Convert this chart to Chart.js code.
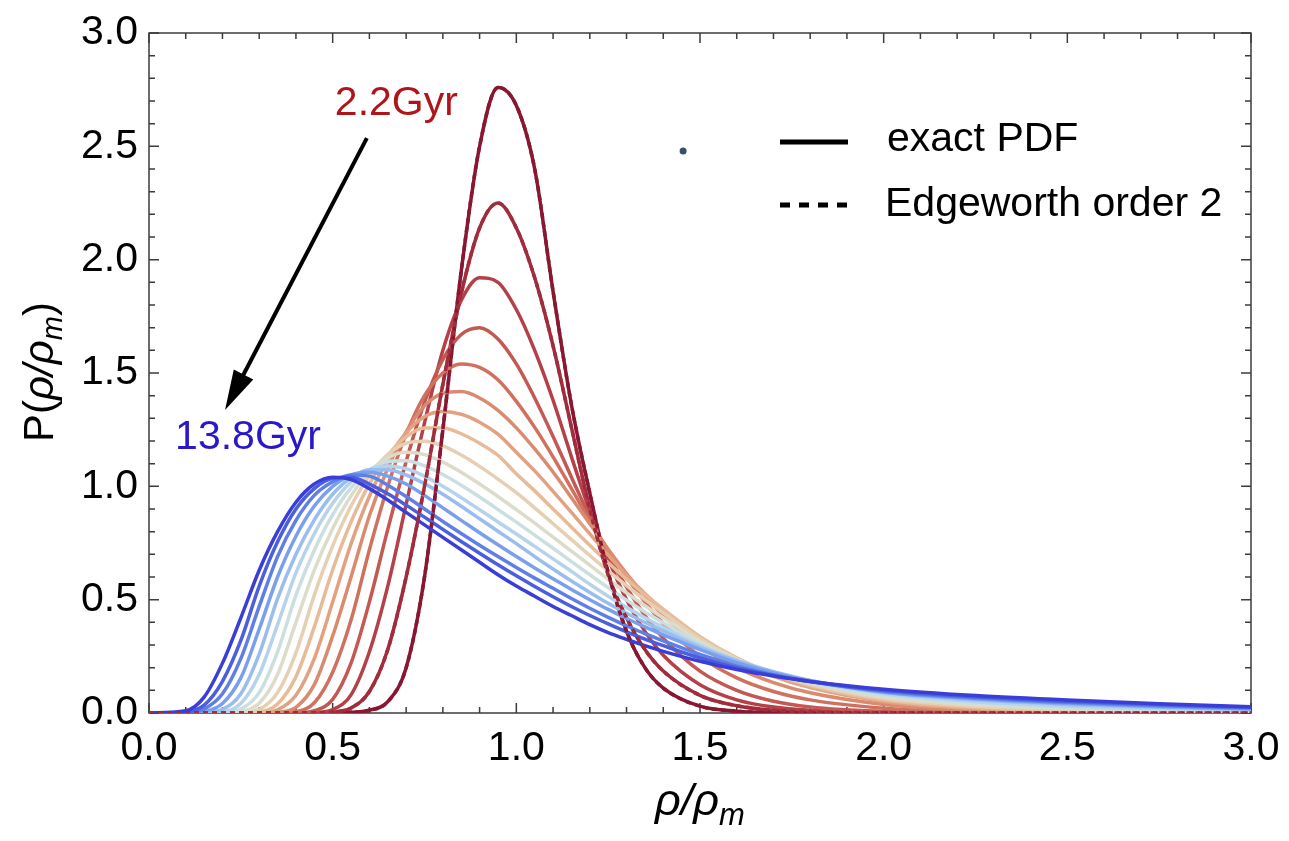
<!DOCTYPE html>
<html>
<head>
<meta charset="utf-8">
<script src="https://cdn.jsdelivr.net/npm/chart.js@4.4.1/dist/chart.umd.min.js"></script>
<style>
  html, body { margin: 0; padding: 0; background: #fff; }
  #wrap { width: 1289px; height: 841px; position: relative; }
</style>
</head>
<body>
<div id="wrap"><canvas id="pdfChart"></canvas></div>
<script>
// density contrast grid (rho / rho_m)
const rhoGrid = [0, 0.1, 0.15, 0.2, 0.25, 0.3, 0.35, 0.4, 0.45, 0.5, 0.55, 0.6, 0.65, 0.7, 0.75, 0.8, 0.85, 0.9, 0.95, 1.0,
                 1.05, 1.1, 1.15, 1.2, 1.25, 1.3, 1.35, 1.4, 1.5, 1.6, 1.7, 1.8, 2.0, 2.25, 2.5, 2.75, 3.0];

// PDF curves, from 2.2 Gyr (first) to 13.8 Gyr (last)
const curve00 = [0,0,0,0,0,0,0,0,0,0, 0.003,0.012,0.05,0.2,0.6,1.25,1.95,2.5,2.76,2.68,2.4,1.86,1.36,0.97,0.62,0.36,0.2,0.11, 0.03,0.008,0.002,0,0,0,0,0,0];
const curve01 = [0,0,0,0,0,0,0,0,0,0.004, 0.022,0.095,0.28,0.6,1.0,1.45,1.85,2.14,2.25,2.14,1.92,1.62,1.26,0.9,0.61,0.42,0.28,0.185, 0.078,0.032,0.012,0.005,0.001,0,0,0,0];
const curve02 = [0,0,0,0,0,0,0,0,0.002,0.015, 0.08,0.27,0.56,0.92,1.28,1.6,1.82,1.92,1.9,1.78,1.6,1.38,1.13,0.89,0.68,0.5,0.36,0.255, 0.125,0.058,0.026,0.012,0.002,0,0,0,0];
const curve03 = [0,0,0,0,0,0,0,0,0.01,0.06, 0.22,0.49,0.81,1.11,1.37,1.56,1.67,1.7,1.65,1.54,1.39,1.22,1.04,0.865,0.7,0.555,0.43,0.33, 0.185,0.1,0.052,0.027,0.007,0.001,0,0,0];
const curve04 = [0,0,0,0,0,0,0,0.006,0.045,0.18, 0.41,0.72,1.0,1.23,1.4,1.5,1.54,1.525,1.47,1.375,1.26,1.13,0.99,0.85,0.72,0.6,0.49,0.395, 0.25,0.155,0.095,0.058,0.021,0.005,0.001,0,0];
const curve05 = [0,0,0,0,0,0,0.003,0.025,0.125,0.34, 0.6,0.87,1.08,1.24,1.355,1.41,1.418,1.39,1.335,1.258,1.165,1.063,0.95,0.835,0.722,0.615,0.518,0.43, 0.295,0.2,0.134,0.089,0.038,0.012,0.004,0.0012,0.0004];
const curve06 = [0,0,0,0,0,0.001,0.014,0.078,0.24,0.49, 0.746,0.956,1.12,1.236,1.307,1.33,1.318,1.283,1.23,1.15,1.068,0.978,0.885,0.79,0.697,0.608,0.527,0.453, 0.327,0.232,0.162,0.112,0.051,0.019,0.007,0.003,0.001];
const curve07 = [0,0,0,0,0,0.005,0.04,0.16,0.38,0.632, 0.843,1.011,1.136,1.218,1.257,1.257,1.232,1.19,1.137,1.055,0.98,0.9,0.82,0.74,0.663,0.59,0.522,0.458, 0.337,0.243,0.172,0.12,0.057,0.024,0.01,0.005,0.002];
const curve08 = [0,0,0,0,0.002,0.016,0.09,0.265,0.52,0.737, 0.913,1.047,1.14,1.19,1.199,1.178,1.138,1.088,1.032,0.972,0.905,0.835,0.765,0.695,0.627,0.562,0.5,0.442, 0.328,0.24,0.174,0.125,0.064,0.03,0.014,0.007,0.004];
const curve09 = [0,0,0,0,0.006,0.043,0.17,0.4,0.63,0.814, 0.958,1.062,1.126,1.15,1.14,1.107,1.062,1.01,0.955,0.897,0.838,0.776,0.714,0.652,0.59,0.53,0.473,0.42, 0.316,0.236,0.176,0.13,0.071,0.036,0.019,0.01,0.006];
const curve10 = [0,0,0,0.002,0.017,0.09,0.27,0.52,0.718,0.875, 0.993,1.071,1.11,1.113,1.09,1.052,1.005,0.953,0.898,0.842,0.785,0.727,0.668,0.61,0.553,0.498,0.446,0.398, 0.304,0.233,0.178,0.135,0.078,0.043,0.024,0.014,0.009];
const curve11 = [0,0,0,0.005,0.042,0.17,0.39,0.618,0.791,0.925, 1.019,1.074,1.09,1.078,1.045,1.0,0.95,0.897,0.843,0.79,0.735,0.68,0.625,0.568,0.515,0.466,0.42,0.378, 0.298,0.233,0.181,0.14,0.085,0.05,0.03,0.019,0.012];
const curve12 = [0,0,0.002,0.016,0.085,0.26,0.505,0.7,0.852,0.965, 1.038,1.073,1.073,1.05,1.012,0.965,0.912,0.857,0.802,0.747,0.69,0.635,0.582,0.532,0.484,0.44,0.4,0.362, 0.29,0.23,0.182,0.144,0.09,0.058,0.038,0.025,0.016];
const curve13 = [0,0.001,0.007,0.042,0.155,0.37,0.6,0.78,0.913,1.0, 1.05,1.062,1.045,1.01,0.96,0.905,0.85,0.795,0.742,0.69,0.64,0.592,0.545,0.5,0.457,0.417,0.38,0.345, 0.28,0.222,0.177,0.142,0.093,0.063,0.043,0.029,0.019];
const curve14 = [0,0.002,0.018,0.085,0.24,0.47,0.69,0.85,0.96,1.02, 1.05,1.045,1.005,0.955,0.9,0.845,0.792,0.74,0.69,0.642,0.595,0.55,0.505,0.462,0.422,0.385,0.35,0.318, 0.258,0.208,0.169,0.139,0.096,0.067,0.047,0.033,0.022];
const curve15 = [0,0.005,0.035,0.14,0.32,0.56,0.755,0.9,0.99,1.035, 1.04,1.01,0.967,0.917,0.864,0.81,0.757,0.705,0.654,0.605,0.558,0.513,0.47,0.43,0.393,0.358,0.326,0.297, 0.243,0.2,0.166,0.139,0.1,0.072,0.052,0.037,0.025];
const curve16 = [0,0.01,0.07,0.22,0.42,0.63,0.8,0.93,1.01,1.04, 1.03,0.99,0.94,0.885,0.83,0.775,0.72,0.665,0.61,0.56,0.515,0.47,0.43,0.39,0.355,0.325,0.297,0.272, 0.228,0.192,0.163,0.139,0.105,0.077,0.057,0.041,0.028];

const curves = [curve00, curve01, curve02, curve03, curve04, curve05, curve06, curve07, curve08,
                curve09, curve10, curve11, curve12, curve13, curve14, curve15, curve16];
const curveColors = ['#8a1731','#a12c3c','#b44147','#c45852','#d0705f','#da8a6f','#e2a282','#e7bb98','#e6cfb2',
                     '#dcdccb','#cbdfe0','#b5d3ea','#98bdee','#7a9fec','#5f7fe6','#4a5ede','#3a3ed6'];
// the Edgeworth (order 2) curves that show above the others
const edgeworthIdx = [0, 1];
const strayPoint = [{ x: 1.454, y: 2.479 }];
const ageLabels = ['2.2Gyr', '13.8Gyr'];
const legendLabels = ['exact PDF', 'Edgeworth order 2'];
const axisTicks = [0, 0.5, 1.0, 1.5, 2.0, 2.5, 3.0];

const FONT = '"Liberation Sans", Arial, Helvetica, sans-serif';
const toXY = ys => rhoGrid.map((x, k) => ({ x: x, y: ys[k] }));

const datasets = curves.map((ys, i) => ({
  data: toXY(ys), borderColor: curveColors[i], borderWidth: 3.5, pointRadius: 0,
  cubicInterpolationMode: 'monotone', order: 30 - i
}));
edgeworthIdx.forEach((i, k) => datasets.push({
  data: toXY(curves[i]), borderColor: curveColors[i], borderWidth: 3.5, pointRadius: 0,
  borderDash: [5, 4], cubicInterpolationMode: 'monotone', order: 5 - k
}));
datasets.push({ type: 'scatter', data: strayPoint, pointRadius: 3.5, backgroundColor: '#34506e', borderWidth: 0, order: 0 });

function richText(ctx, parts, x, y, size) {
  const font = p => (p.it ? 'italic ' : '') + Math.round(p.sub ? size * 0.7 : size) + 'px ' + FONT;
  let w = 0;
  parts.forEach(p => { ctx.font = font(p); w += ctx.measureText(p.t).width; });
  let cx = x - w / 2;
  parts.forEach(p => {
    ctx.font = font(p);
    ctx.fillText(p.t, cx, y + (p.sub ? size * 0.22 : 0));
    cx += ctx.measureText(p.t).width;
  });
}

// frame with inward ticks on all four sides
const frameTicks = {
  id: 'frameTicks',
  beforeDatasetsDraw(chart) {
    const { ctx, chartArea: a, scales: { x, y } } = chart;
    ctx.save();
    ctx.strokeStyle = '#3c3c3c';
    ctx.lineWidth = 1.5;
    ctx.strokeRect(a.left, a.top, a.right - a.left, a.bottom - a.top);
    ctx.beginPath();
    for (let k = 0; k <= 30; k++) {
      const v = k / 10, len = k % 5 === 0 ? 10 : 6;
      const px = x.getPixelForValue(v), py = y.getPixelForValue(v);
      ctx.moveTo(px, a.bottom); ctx.lineTo(px, a.bottom - len);
      ctx.moveTo(px, a.top); ctx.lineTo(px, a.top + len);
      ctx.moveTo(a.left, py); ctx.lineTo(a.left + len, py);
      ctx.moveTo(a.right, py); ctx.lineTo(a.right - len, py);
    }
    ctx.stroke();
    ctx.restore();
  }
};

const annotations = {
  id: 'annotations',
  afterDraw(chart) {
    const { ctx, scales: { x, y } } = chart;
    ctx.save();
    ctx.textAlign = 'left';
    ctx.textBaseline = 'middle';
    ctx.font = '41px ' + FONT;
    ctx.fillStyle = '#b0141b';
    ctx.fillText(ageLabels[0], x.getPixelForValue(0.506), y.getPixelForValue(2.69));
    ctx.fillStyle = '#2a18c8';
    ctx.fillText(ageLabels[1], x.getPixelForValue(0.071), y.getPixelForValue(1.213));

    // arrow from the early to the late time
    const x0 = x.getPixelForValue(0.593), y0 = y.getPixelForValue(2.536);
    const x1 = x.getPixelForValue(0.207), y1 = y.getPixelForValue(1.337);
    const ang = Math.atan2(y1 - y0, x1 - x0), hl = 40, hw = 11;
    const bx = x1 - hl * Math.cos(ang), by = y1 - hl * Math.sin(ang);
    ctx.strokeStyle = '#000'; ctx.fillStyle = '#000'; ctx.lineWidth = 4;
    ctx.beginPath(); ctx.moveTo(x0, y0); ctx.lineTo(bx + 4 * Math.cos(ang), by + 4 * Math.sin(ang)); ctx.stroke();
    ctx.beginPath();
    ctx.moveTo(x1, y1);
    ctx.lineTo(bx + hw * Math.sin(ang), by - hw * Math.cos(ang));
    ctx.lineTo(bx - hw * Math.sin(ang), by + hw * Math.cos(ang));
    ctx.closePath(); ctx.fill();

    // legend
    ctx.lineWidth = 5;
    ctx.beginPath(); ctx.moveTo(780, 142); ctx.lineTo(848, 142); ctx.stroke();
    ctx.setLineDash([10, 9]);
    ctx.beginPath(); ctx.moveTo(780, 205); ctx.lineTo(848, 205); ctx.stroke();
    ctx.setLineDash([]);
    ctx.font = '41px ' + FONT;
    ctx.fillText(legendLabels[0], 887, 140);
    ctx.fillText(legendLabels[1], 885, 205);

    // axis titles
    ctx.textBaseline = 'alphabetic';
    richText(ctx, [{ t: 'ρ', it: 1 }, { t: '/', it: 1 }, { t: 'ρ', it: 1 }, { t: 'm', it: 1, sub: 1 }], 700, 815, 45);
    ctx.translate(53, 372);
    ctx.rotate(-Math.PI / 2);
    richText(ctx, [{ t: 'P' }, { t: '(' }, { t: 'ρ', it: 1 }, { t: '/', it: 1 }, { t: 'ρ', it: 1 },
                   { t: 'm', it: 1, sub: 1 }, { t: ')' }], 0, 0, 42);
    ctx.restore();
  }
};

const tickFont = { family: FONT, size: 41 };
new Chart(document.getElementById('pdfChart'), {
  type: 'line',
  data: { datasets: datasets },
  options: {
    responsive: true, maintainAspectRatio: false, animation: false,
    layout: { padding: { left: 0, right: 38, top: 33, bottom: 0 } },
    plugins: { legend: { display: false }, tooltip: { enabled: false } },
    scales: {
      x: {
        type: 'linear', min: 0, max: 3,
        afterFit: s => { s.height = 128; },
        afterBuildTicks: s => { s.ticks = axisTicks.map(v => ({ value: v })); },
        grid: { display: false }, border: { display: false },
        ticks: { font: tickFont, color: '#000', padding: 3, maxRotation: 0, autoSkip: false, callback: v => v.toFixed(1) }
      },
      y: {
        type: 'linear', min: 0, max: 3,
        afterFit: s => { s.width = 149; },
        afterBuildTicks: s => { s.ticks = axisTicks.map(v => ({ value: v })); },
        grid: { display: false }, border: { display: false },
        ticks: { font: tickFont, color: '#000', padding: 3, autoSkip: false, callback: v => v.toFixed(1) }
      }
    }
  },
  plugins: [frameTicks, annotations]
});
</script>
</body>
</html>
